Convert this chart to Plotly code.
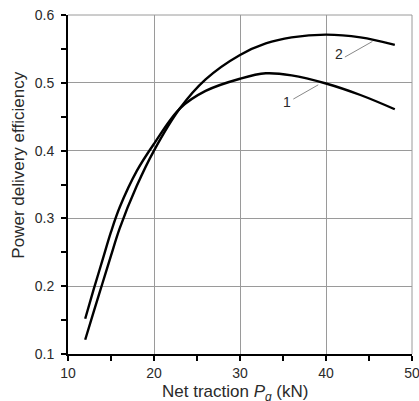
import plotly.graph_objects as go

# Net traction (kN)
x1 = [12, 13, 14, 15, 16, 18, 20, 23, 26, 30, 33, 36, 40, 44, 48]
eff1 = [0.152, 0.196, 0.238, 0.280, 0.316, 0.370, 0.410, 0.462, 0.488, 0.506, 0.514, 0.511, 0.499, 0.482, 0.461]
x2 = [12, 13, 14, 15, 16, 18, 20, 23, 26, 30, 33, 36, 40, 44, 48]
eff2 = [0.121, 0.163, 0.204, 0.245, 0.285, 0.348, 0.400, 0.462, 0.505, 0.541, 0.558, 0.567, 0.571, 0.567, 0.556]

x_ticks = [10, 20, 30, 40, 50]
y_ticks = [0.1, 0.2, 0.3, 0.4, 0.5, 0.6]
y_tick_labels = ["0.1", "0.2", "0.3", "0.4", "0.5", "0.6"]

curve_labels = ["1", "2"]
label_pos = [(35.5, 0.472), (41.5, 0.543)]
leader_lines = [((36.2, 0.476), (39.1, 0.497)), ((42.2, 0.538), (45.4, 0.561))]

FONT = "Liberation Sans, Arial"
TXT = "#2a2a2a"

fig = go.Figure()
for xs, ys in [(x1, eff1), (x2, eff2)]:
    fig.add_trace(go.Scatter(x=xs, y=ys, mode="lines", line=dict(color="black", width=2.4, shape="spline", smoothing=1.0),
                             showlegend=False, hoverinfo="skip"))

for lab, (lx, ly), ((x0, y0), (xe, ye)) in zip(curve_labels, label_pos, leader_lines):
    fig.add_annotation(x=lx, y=ly, text=lab, showarrow=False, font=dict(size=14, color=TXT, family=FONT))
    fig.add_shape(type="line", x0=x0, y0=y0, x1=xe, y1=ye, line=dict(color="#888", width=1))

fig.add_annotation(xref="paper", yref="paper", x=-0.144, y=0.557, xanchor="center", yanchor="middle",
                   text="Power delivery efficiency", textangle=-90,
                   showarrow=False, font=dict(size=17, color=TXT, family=FONT))
fig.add_annotation(xref="paper", yref="paper", x=0.486, y=-0.077, xanchor="center", yanchor="top",
                   text="Net traction <i>P</i><sub><i>q</i></sub> (kN)",
                   showarrow=False, font=dict(size=17, color=TXT, family=FONT))

axis_common = dict(ticks="outside", ticklen=5, tickwidth=1.5, tickcolor="black",
                   showline=True, linecolor="black", linewidth=2, mirror=False,
                   showgrid=True, gridcolor="#9a9a9a", gridwidth=1, zeroline=False,
                   ticklabeloverflow="allow", automargin=False,
                   tickfont=dict(size=14, color=TXT, family=FONT))
fig.update_xaxes(range=[10, 50], tickvals=x_ticks, ticklabelstandoff=0,
                 minor=dict(dtick=5, ticks="outside", ticklen=5, tickwidth=1.5, tickcolor="black", showgrid=False),
                 **axis_common)
fig.update_yaxes(range=[0.1, 0.6], tickvals=y_ticks, ticktext=y_tick_labels, ticklabelstandoff=4,
                 minor=dict(dtick=0.05, ticks="outside", ticklen=5, tickwidth=1.5, tickcolor="black", showgrid=False),
                 **axis_common)

# frame top and right
fig.add_shape(type="line", xref="paper", yref="paper", x0=0, y0=1, x1=1, y1=1, line=dict(color="#9a9a9a", width=1))
fig.add_shape(type="line", xref="paper", yref="paper", x0=1, y0=0, x1=1, y1=1, line=dict(color="#9a9a9a", width=1))

fig.update_layout(width=419, height=401, margin=dict(l=68, r=7, t=15, b=47, autoexpand=False),
                  plot_bgcolor="white", paper_bgcolor="white")
fig.write_html("out.html", config={"displayModeBar": False},
               post_script="document.body.style.margin='0';document.body.style.overflow='hidden';")
